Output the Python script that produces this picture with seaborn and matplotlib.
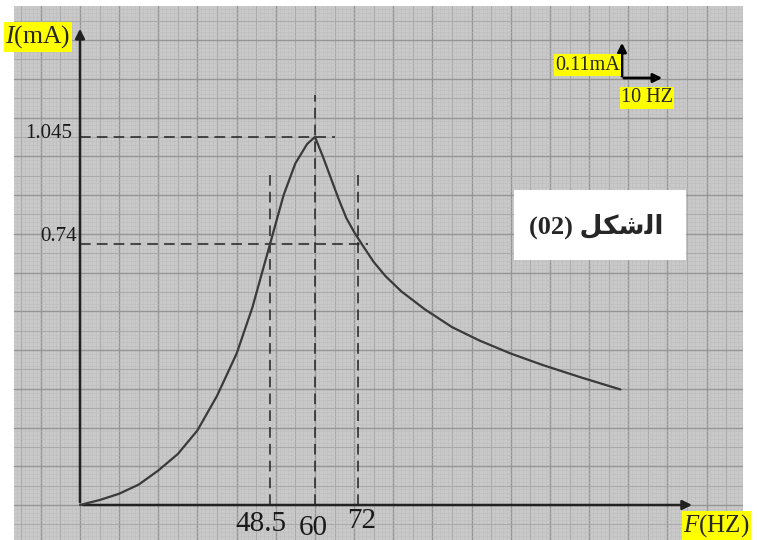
import numpy as np
import pandas as pd
import matplotlib
matplotlib.use("Agg")
import matplotlib.pyplot as plt
import seaborn as sns
from matplotlib.patches import Rectangle

# Resonance curve: frequency (Hz) vs current (mA)
freq = [0, 5, 10, 15, 20, 25, 30, 35, 40, 44, 48.5, 52, 55, 58, 60,
        62, 64, 66, 68, 70, 72, 75, 78, 82, 88, 95, 102, 110, 118, 128, 138]
current = [0, 0.014, 0.032, 0.058, 0.098, 0.145, 0.212, 0.31, 0.43, 0.56,
           0.74, 0.88, 0.97, 1.025, 1.045,
           0.99, 0.93, 0.87, 0.815, 0.775, 0.74, 0.69, 0.65, 0.607, 0.556,
           0.505, 0.467, 0.43, 0.398, 0.362, 0.328]

f0 = 60
f1, f2 = 48.5, 72
i_max = 1.045
i_half = 0.74
x_labels = ["48.5", "60", "72"]
y_labels = ["1.045", "0.74"]

df = pd.DataFrame({"F": freq, "I": current})

sns.set_style("white")
plt.rcParams["font.family"] = ["Liberation Serif", "DejaVu Sans"]
plt.rcParams["mathtext.fontset"] = "custom"
plt.rcParams["mathtext.rm"] = "Liberation Serif"
plt.rcParams["mathtext.it"] = "Liberation Serif:italic"

W, H = 758, 540
fig = plt.figure(figsize=(W / 100, H / 100), dpi=100)
fig.patch.set_facecolor("white")
ax = fig.add_axes([14 / W, 0, (743 - 14) / W, 534 / H])
ax.set_facecolor("#c9c9c9")
ax.set_xlim(-16.85, 169.3)
ax.set_ylim(-0.0994, 1.4168)
for s in ax.spines.values():
    s.set_visible(False)
ax.set_xticks([])
ax.set_yticks([])

# graph paper: fine, half and main lines
def paper_style(k):
    if k == 0:
        return "#959595", 1.0
    if k == 5:
        return "#aaaaaa", 0.8
    return "#bdbdbd", 0.4

for xv in np.arange(-20, 171, 1.0):
    c, lw = paper_style(round(xv) % 10)
    ax.axvline(xv, color=c, lw=lw, zorder=0)
for j in range(-10, 140):
    c, lw = paper_style(j % 10)
    ax.axhline(j * 0.011, color=c, lw=lw, zorder=0)

# axes with arrows
arr = dict(arrowstyle="-|>", color="#222222", lw=1.8, mutation_scale=14)
ax.annotate("", xy=(157, 0), xytext=(0, 0), arrowprops=arr, zorder=3)
ax.annotate("", xy=(0, 1.36), xytext=(0, 0), arrowprops=arr, zorder=3)

# dashed guide lines
dash = dict(color="#222222", lw=1.1, ls=(0, (7, 4)), zorder=2)
ax.plot([0, 65], [i_max, i_max], **dash)
ax.plot([0, 73.5], [i_half, i_half], **dash)
ax.plot([f0, f0], [0, 1.165], **dash)
ax.plot([f1, f1], [0, 0.95], **dash)
ax.plot([f2 - 1, f2 - 1], [0, 0.95], **dash)

sns.lineplot(data=df, x="F", y="I", sort=False, color="#3a3a3a", lw=1.6,
             ax=ax, zorder=4)
ax.set_xlabel("")
ax.set_ylabel("")

# value labels
ax.text(-2.0, 1.056, y_labels[0], ha="right", va="center", fontsize=15,
        color="#1a1a1a")
ax.text(-0.8, 0.761, y_labels[1], ha="right", va="center", fontsize=15,
        color="#1a1a1a")
ax.text(46.2, -0.074, x_labels[0], ha="center", va="baseline", fontsize=21,
        color="#1a1a1a")
ax.text(59.5, -0.086, x_labels[1], ha="center", va="baseline", fontsize=21,
        color="#1a1a1a")
ax.text(72.0, -0.066, x_labels[2], ha="center", va="baseline", fontsize=21,
        color="#1a1a1a")

# axis titles on yellow
yel = dict(boxstyle="square,pad=0.05", fc="#ffff00", ec="none")
fig.text(5 / W, 1 - 37 / H, r"$I$(mA)", ha="left", va="center", fontsize=18.5,
         bbox=yel)
fig.text(683 / W, 1 - 526 / H, r"$F$(HZ)", ha="left", va="center", fontsize=18,
         bbox=yel)

# scale indicator
fig.text(620 / W, 1 - 65 / H, "0.11mA", ha="right", va="center", fontsize=14.5,
         bbox=yel)
fig.text(621 / W, 1 - 98 / H, "10 HZ", ha="left", va="center", fontsize=14.5,
         bbox=yel)
sarr = dict(arrowstyle="-|>", color="black", lw=2, mutation_scale=13)
fig.add_artist(plt.Annotation("", xy=(622 / W, 1 - 40 / H), xytext=(622 / W, 1 - 79 / H),
                              xycoords="figure fraction", arrowprops=sarr))
fig.add_artist(plt.Annotation("", xy=(665 / W, 1 - 78 / H), xytext=(621 / W, 1 - 78 / H),
                              xycoords="figure fraction", arrowprops=sarr))

# figure caption box
fig.add_artist(Rectangle((514 / W, 1 - 260 / H), 172 / W, 70 / H,
                         transform=fig.transFigure, fc="white", ec="none"))
fig.text(596 / W, 1 - 226 / H, "(02) \uFEDE\uFEDC\uFEB7\uFEDF\uFE8D",
         ha="center", va="center", fontsize=19, fontweight="bold",
         family=["Liberation Serif", "DejaVu Sans"])

fig.savefig("out.png", dpi=100)
